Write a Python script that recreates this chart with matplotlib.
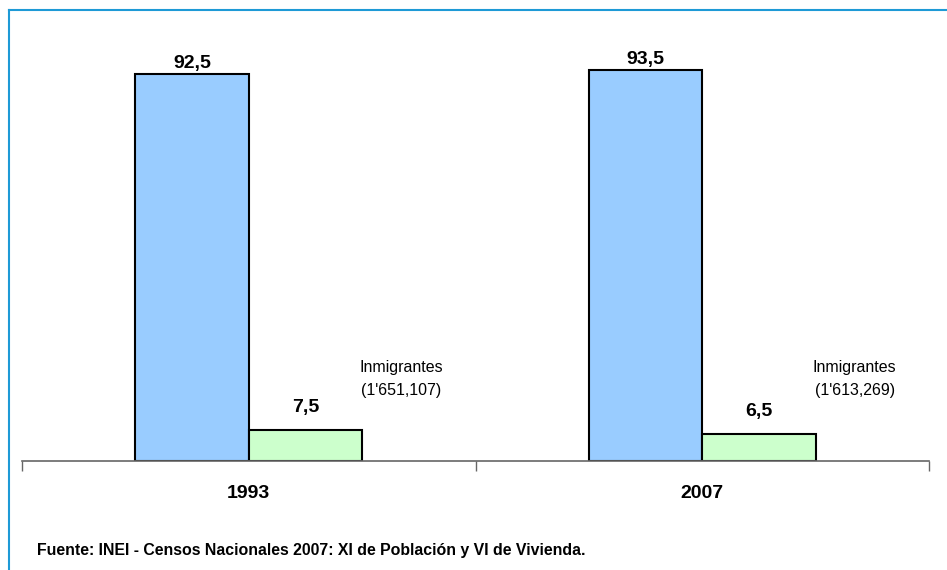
import matplotlib
matplotlib.use("Agg")
import matplotlib.pyplot as plt
from matplotlib.lines import Line2D

years = ["1993", "2007"]
nativos = [92.5, 93.5]
inmigrantes = [7.5, 6.5]
inm_labels = ["Inmigrantes\n(1'651,107)", "Inmigrantes\n(1'613,269)"]
fuente = "Fuente: INEI - Censos Nacionales 2007: XI de Población y VI de Vivienda."

fam = "Liberation Sans"

W, H = 947, 570
fig = plt.figure(figsize=(W / 100, H / 100), dpi=100)
ax = fig.add_axes([22 / W, 109 / H, (929 - 22) / W, (461 - 43) / H])

bw = 0.25
x = [0, 1]
ax.bar([i - bw / 2 for i in x], nativos, width=bw, color="#99CCFF",
       edgecolor="black", linewidth=1.5)
ax.bar([i + bw / 2 for i in x], inmigrantes, width=bw, color="#CCFFCC",
       edgecolor="black", linewidth=1.5)

for i in x:
    ax.text(i - bw / 2, nativos[i] + 0.6, f"{nativos[i]:.1f}".replace(".", ","),
            ha="center", va="bottom", fontsize=14, fontweight="bold", family=fam)
    ax.text(i + bw / 2, inmigrantes[i] + 3.3, f"{inmigrantes[i]:.1f}".replace(".", ","),
            ha="center", va="bottom", fontsize=14, fontweight="bold", family=fam)
    ax.text(i + 0.336, 19.6, inm_labels[i], ha="center", va="center",
            fontsize=11.5, family=fam, linespacing=1.6)

ax.set_xlim(-0.5, 1.5)
ax.set_ylim(0, 100)
ax.set_xticks([-0.5, 0.5, 1.5])
ax.set_xticklabels([])
ax.tick_params(axis="x", length=7, width=1, color="#666666", direction="out")
ax.set_yticks([])
for s in ["top", "right", "left"]:
    ax.spines[s].set_visible(False)
ax.spines["bottom"].set_color("#666666")
ax.spines["bottom"].set_linewidth(1.2)

for i in x:
    ax.text(i, -7.7, years[i], ha="center", va="center", fontsize=14,
            fontweight="bold", family=fam)

fig.text(37 / W, 1 - 550 / H, fuente, ha="left", va="center", fontsize=11.4,
         fontweight="bold", family=fam)

border = "#1E9AD6"
fig.add_artist(Line2D([8.5 / W, 8.5 / W], [0, 1 - 9.5 / H], color=border, lw=1.5))
fig.add_artist(Line2D([8.5 / W, 1], [1 - 9.5 / H, 1 - 9.5 / H], color=border, lw=1.5))

fig.savefig("out.png", dpi=100)
